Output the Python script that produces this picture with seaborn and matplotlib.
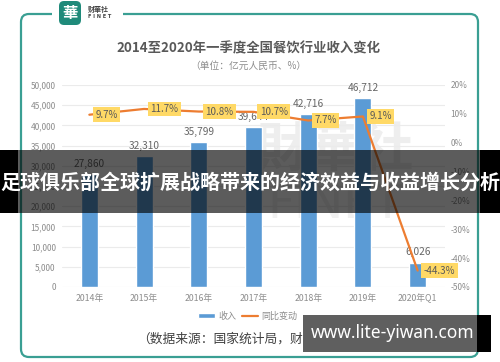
import numpy as np
import matplotlib
matplotlib.use("Agg")
import matplotlib.pyplot as plt
import seaborn as sns
from matplotlib.patches import FancyBboxPatch, Rectangle
from matplotlib.lines import Line2D

# data
years = ["2014年", "2015年", "2016年", "2017年", "2018年", "2019年", "2020年Q1"]
revenue = [27860, 32310, 35799, 39644, 42716, 46712, 6026]
growth = [9.7, 11.7, 10.8, 10.7, 7.7, 9.1, -44.3]
left_ticks = list(range(0, 50001, 5000))
right_ticks = list(range(-50, 21, 10))

title = "2014至2020年一季度全国餐饮行业收入变化"
subtitle = "（单位：亿元人民币、%）"
source = "（数据来源：国家统计局，财华社整理）"
banner = "足球俱乐部全球扩展战略带来的经济效益与收益增长分析"
site = "www.lite-yiwan.com"

BLUE = "#5B9BD5"
ORANGE = "#ED7D31"
TEAL = "#3a9f93"

sns.set_style("white")
plt.rcParams['font.family'] = ['Noto Sans CJK SC', 'DejaVu Sans']

W, H = 500, 362
def fx(x):
    return x / W
def fy(y):
    return 1 - y / H

fig = plt.figure(figsize=(5, 3.62), dpi=100)
fig.patch.set_facecolor("white")

# faint watermark behind the plot
fig.text(fx(335), fy(150), "財華社", fontsize=38, color="#eeeeee", ha="center",
         va="center", zorder=-1, fontweight="bold")
fig.text(fx(335), fy(205), "FINET", fontsize=34, color="#f1f1f1", ha="center",
         va="center", zorder=-1, family="DejaVu Sans")

ax = fig.add_axes([fx(62), fy(287), (445 - 62) / W, (287 - 85) / H])
ax.patch.set_visible(False)

sns.barplot(x=years, y=revenue, color=BLUE, saturation=1, width=0.31, ax=ax, zorder=2)
ax.set_xlim(-0.5, 6.5)
ax.set_ylim(0, 50000)
ax.set_yticks(left_ticks)
ax.set_yticklabels([f"{t:,}" for t in left_ticks])
ax.yaxis.grid(True, color="#ebebeb", lw=0.8, zorder=0)
ax.set_axisbelow(True)
ax.tick_params(axis="y", length=0, labelsize=6, labelcolor="#8c8c8c", pad=4.5)
ax.tick_params(axis="x", length=0, labelsize=6.3, labelcolor="#8c8c8c", pad=5)
ax.set_xlabel("")
ax.set_ylabel("")
for s in ax.spines.values():
    s.set_visible(False)

for i, v in enumerate(revenue):
    ax.text(i, v + 1300, f"{v:,}", ha="center", va="bottom", fontsize=7.3, color="#666666")

ax2 = ax.twinx()
ax2.patch.set_visible(False)
sns.lineplot(x=np.arange(len(growth)), y=growth, color=ORANGE, lw=1.6, ax=ax2)
ax2.set_xlim(-0.5, 6.5)
ax2.set_ylim(-50, 20)
ax2.set_yticks(right_ticks)
ax2.set_yticklabels([f"{t}%" for t in right_ticks])
ax2.tick_params(axis="y", length=0, labelsize=6, labelcolor="#8c8c8c", pad=4)
ax2.set_ylabel("")
for s in ax2.spines.values():
    s.set_visible(False)

for i, g in enumerate(growth):
    ax2.annotate(f"{g}%", (i, g), xytext=(4.5, 0), textcoords="offset points",
                 ha="left", va="center", fontsize=7, color="#595959",
                 bbox=dict(boxstyle="square,pad=0.25", fc="#FFD966", ec="none"))

# legend
handles = [Rectangle((0, 0), 1, 1, fc=BLUE), Line2D([], [], color=ORANGE, lw=1.6)]
fig.legend(handles, ["收入", "同比变动"], loc="center", bbox_to_anchor=(fx(248), fy(316)),
           ncol=2, frameon=False, fontsize=6.5, handlelength=1.8, handleheight=0.45,
           columnspacing=0.6, handletextpad=0.4, labelcolor="#8c8c8c")

# titles and source
fig.text(fx(248), fy(48), title, fontsize=9.6, fontweight="bold", color="#595959",
         ha="center", va="center")
fig.text(fx(248), fy(66), subtitle, fontsize=7, color="#8c8c8c", ha="center", va="center")
fig.text(fx(137), fy(339), source, fontsize=9.2, color="#404040", ha="left", va="center")

# rounded frame
frame = FancyBboxPatch((fx(21), fy(357)), (478 - 21) / W, (357 - 14) / H,
                       boxstyle="round,pad=0,rounding_size=0.016", mutation_aspect=W / H,
                       transform=fig.transFigure, fc="none", ec=TEAL, lw=1.6, zorder=5)
fig.add_artist(frame)
fig.add_artist(Rectangle((fx(52), fy(20)), 71 / W, 12 / H, transform=fig.transFigure,
                         fc="white", ec="none", zorder=6))

# logo
logo = FancyBboxPatch((fx(59), fy(25)), 22 / W, 24 / H,
                      boxstyle="round,pad=0,rounding_size=0.01", mutation_aspect=W / H,
                      transform=fig.transFigure, fc="#1f8a7a", ec="none", zorder=7)
fig.add_artist(logo)
fig.text(fx(70), fy(13), "華", fontsize=11, color="white", fontweight="bold",
         ha="center", va="center", zorder=8)
fig.text(fx(88), fy(9), "财華社", fontsize=5, color="#444444", fontweight="bold",
         ha="left", va="center", zorder=8)
fig.text(fx(88), fy(17), "F I N E T", fontsize=3.6, color="#444444", fontweight="bold",
         ha="left", va="center", zorder=8, family="DejaVu Sans")

# overlay banner across the middle
fig.add_artist(Rectangle((0, fy(213)), 1, 63 / H, transform=fig.transFigure,
                         fc="black", alpha=0.64, ec="none", zorder=10))
fig.add_artist(Rectangle((0, fy(213)), 18 / W, 63 / H, transform=fig.transFigure,
                         fc="black", ec="none", zorder=10))
fig.add_artist(Rectangle((fx(480), fy(213)), 20 / W, 63 / H, transform=fig.transFigure,
                         fc="black", ec="none", zorder=10))
fig.text(0.5, fy(182), banner, fontsize=14.4, fontweight="bold", color="white",
         ha="center", va="center", zorder=11)

# site box at the bottom right
fig.add_artist(Rectangle((fx(303), fy(352)), (477 - 303) / W, 37 / H, transform=fig.transFigure,
                         fc="#5f5f5f", ec="none", zorder=10))
fig.add_artist(Rectangle((fx(477), fy(352)), 14 / W, 37 / H, transform=fig.transFigure,
                         fc="black", ec="none", zorder=10))
fig.text(fx(393), fy(333), site, fontsize=12.5, fontweight="bold", color="white",
         ha="center", va="center", zorder=11, family="Noto Sans")

fig.savefig("out.png", dpi=100)
